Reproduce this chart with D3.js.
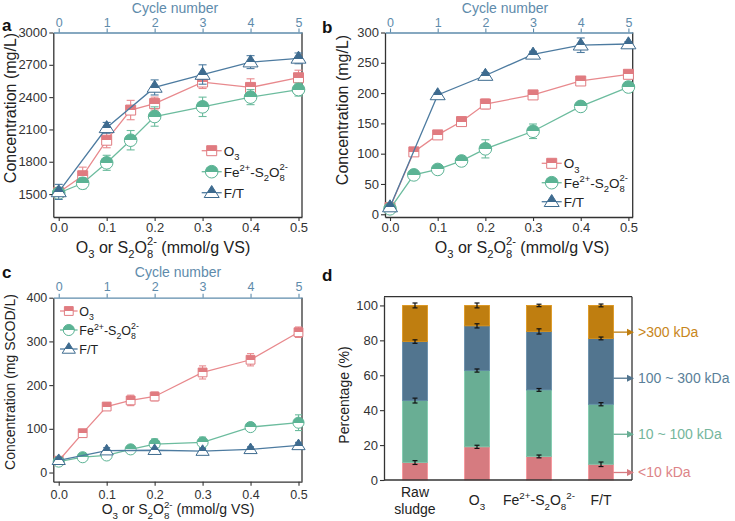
<!DOCTYPE html>
<html><head><meta charset="utf-8">
<script src="https://cdn.jsdelivr.net/npm/d3@7"></script>
<style>body{margin:0;background:#fff;} svg{font-family:Arial,"Liberation Sans",Helvetica,sans-serif;}</style>
</head><body><svg id="c" width="735" height="521"></svg>
<script>
// ---------- DATA ----------
const dose = [0, 0.05, 0.1, 0.15, 0.2, 0.3, 0.4, 0.5];
const cycles = [0, 1, 2, 3, 4, 5];
const doseTicks = [0, 0.1, 0.2, 0.3, 0.4, 0.5];
const cycleTicks = [0, 1, 2, 3, 4, 5];

// panel a (mg/L)
const aO3 = [1515, 1670, 2000, 2280, 2340, 2540, 2490, 2580];
const aO3Err = [40, 80, 70, 90, 60, 60, 80, 70];
const aFe = [1510, 1600, 1790, 2000, 2220, 2310, 2400, 2470];
const aFeErr = [40, 50, 70, 90, 90, 90, 70, 60];
const aFT = [1520, 2115, 2490, 2610, 2725, 2760];
const aFTErr = [70, 50, 70, 90, 60, 50];
const aTicks = [1500, 1800, 2100, 2400, 2700, 3000];

// panel b (mg/L)
const bO3 = [11, 103, 131, 153, 182, 197, 220, 231];
const bO3Err = [3, 5, 6, 5, 8, 5, 5, 5];
const bFe = [9, 65, 74, 88, 108, 137, 178, 210];
const bFeErr = [3, 4, 6, 5, 15, 12, 4, 6];
const bFT = [12, 197, 229, 264, 279, 281];
const bFTErr = [3, 3, 5, 5, 12, 4];
const bTicks = [0, 50, 100, 150, 200, 250, 300];

// panel c (mg SCOD/L)
const cO3 = [27, 90, 151, 165, 174, 229, 258, 321];
const cO3Err = [5, 8, 8, 12, 10, 15, 14, 12];
const cFe = [25, 35, 39, 53, 65, 69, 104, 114];
const cFeErr = [5, 7, 8, 6, 12, 12, 6, 18];
const cFT = [28, 50, 51, 49, 53, 62];
const cFTErr = [6, 7, 5, 6, 6, 7];
const cTicks = [0, 100, 200, 300, 400];

// panel d (%)
const dCats = ["Raw sludge", "O3", "Fe", "F/T"];
const dLt10 = [10, 19, 13.5, 9];
const d10to100 = [35.5, 43.7, 38.1, 34.4];
const d100to300 = [33.8, 25.6, 33.5, 37.7];
const dGt300 = [20.7, 11.7, 14.9, 18.9];
const dErrLt10 = [1.1, 0.9, 0.8, 1.3];
const dErr10to100 = [1.4, 0.9, 0.8, 0.9];
const dErr100to300 = [1.0, 1.2, 1.5, 0.8];
const dErrGt300 = [1.4, 1.4, 0.7, 0.8];
const dTicks = [0, 20, 40, 60, 80, 100];
const dLabels = [">300 kDa", "100 ~ 300 kDa", "10 ~ 100 kDa", "<10 kDa"];
const dLabelAt = [84.7, 58.3, 26.2, 4.3];

// ---------- STYLE ----------
const FONT = 'Arial,"Liberation Sans",Helvetica,sans-serif';
const AX = '#333';
const TOPC = '#5e8bab';
const C_O3 = '#e07b80', L_O3 = '#e8898d';
const C_FE = '#5bb394', L_FE = '#6cbc9e';
const C_FT = '#3e6b8f', L_FT = '#4d7ba0';
const BAR = ['#d67b80', '#69ae94', '#52758f', '#bf7e10'];
const LAB = ['#c8861a', '#5a7f99', '#74b69c', '#dd8488'];

const svg = d3.select('#c');
const defs = svg.append('defs');
function grad(id, color, cut) {
  const g = defs.append('linearGradient').attr('id', id)
    .attr('x1', 0).attr('y1', 0).attr('x2', 0).attr('y2', 1);
  [[0, color], [cut, color], [cut, '#fff'], [1, '#fff']].forEach(([o, c]) =>
    g.append('stop').attr('offset', o).attr('stop-color', c));
}
grad('hO3', C_O3, 0.5); grad('hFE', C_FE, 0.5); grad('hFT', C_FT, 0.62);

function rich(t, parts, fs) {
  let off = 0, lastSubW = 0;
  parts.forEach(([s, m]) => {
    let target = 0, size = fs, dx = 0;
    if (m === 'sub') { target = fs * 0.33; size = fs * 0.7; }
    else if (m === 'sup') { target = -fs * 0.4; size = fs * 0.7; }
    else if (m === 'stack') { target = -fs * 0.46; size = fs * 0.7; dx = -lastSubW; }
    const ts = t.append('tspan').text(s).attr('font-size', size);
    if (target - off !== 0) ts.attr('dy', target - off);
    if (dx) ts.attr('dx', dx);
    off = target;
    lastSubW = m === 'sub' ? s.length * 0.556 * fs * 0.7 : 0;
  });
}
const FE_PARTS = [['Fe', ''], ['2+', 'sup'], ['-S', ''], ['2', 'sub'], ['O', ''], ['8', 'sub'], ['2-', 'stack']];
const O3_PARTS = [['O', ''], ['3', 'sub']];
const XT_PARTS = [['O', ''], ['3', 'sub'], [' or S', ''], ['2', 'sub'], ['O', ''], ['8', 'sub'], ['2-', 'stack'], [' (mmol/g VS)', '']];

function marker(g, shape, cx, cy, col, gid, s) {
  let d;
  if (shape === 'sq') { const h = 5 * s; d = `M${-h},${-h}H${h}V${h}H${-h}Z`; }
  else if (shape === 'ci') d = d3.symbol(d3.symbolCircle, 125 * s * s)();
  else { const w = 7.5 * s, h = 12 * s; d = `M0,${-h * 0.6}L${w},${h * 0.4}L${-w},${h * 0.4}Z`; }
  g.append('path').attr('d', d)
    .attr('transform', `translate(${cx},${cy})`)
    .attr('fill', `url(#${gid})`).attr('stroke', col).attr('stroke-width', 1);
}

function styleAxis(sel, fs, color) {
  sel.attr('font-family', FONT).attr('font-size', fs);
  sel.selectAll('.domain').attr('stroke', color).attr('stroke-width', 1.3);
  sel.selectAll('.tick line').attr('stroke', color).attr('stroke-width', 1.1);
  sel.selectAll('.tick text').attr('fill', color);
}

function linePanel(o) {
  const g = svg.append('g');
  const x = d3.scaleLinear().domain(o.xDom).range([o.L, o.R]);
  const xc = d3.scaleLinear().domain(o.cDom).range([o.L, o.R]);
  const y = d3.scaleLinear().domain(o.yDom).range([o.B, o.T]);
  g.append('line').attr('x1', o.R).attr('x2', o.R).attr('y1', o.T).attr('y2', o.B)
    .attr('stroke', AX).attr('stroke-width', 1.3);
  styleAxis(g.append('g').attr('transform', `translate(${o.L},0)`)
    .call(d3.axisLeft(y).tickValues(o.yTicks).tickFormat(d3.format('d')).tickSize(4).tickSizeOuter(0).tickPadding(2)), o.fsT, AX);
  styleAxis(g.append('g').attr('transform', `translate(0,${o.B})`)
    .call(d3.axisBottom(x).tickValues(doseTicks).tickFormat(d3.format('.1f')).tickSize(4).tickSizeOuter(0).tickPadding(o.bp)), o.fsT, AX);
  styleAxis(g.append('g').attr('transform', `translate(0,${o.T})`)
    .call(d3.axisTop(xc).tickValues(cycleTicks).tickFormat(d3.format('d')).tickSize(4).tickSizeOuter(0).tickPadding(o.tp)), o.fsTop, TOPC);

  g.append('text').attr('x', o.cycX).attr('y', o.cycY).attr('text-anchor', 'middle')
    .attr('font-size', o.fsC).attr('fill', TOPC).text('Cycle number');
  const xt = g.append('text').attr('x', o.xtX).attr('y', o.xtY).attr('text-anchor', 'middle').attr('fill', '#222');
  rich(xt, XT_PARTS, o.fsTitle);
  g.append('text').attr('transform', `translate(${o.ytX},${o.ytY}) rotate(-90)`).attr('text-anchor', 'middle')
    .attr('font-size', o.fsTitle).attr('fill', '#222').text(o.yTitle);
  g.append('text').attr('x', o.lab[0]).attr('y', o.lab[1]).attr('font-size', 17).attr('font-weight', 'bold')
    .attr('fill', '#111').text(o.labText);

  const s = o.ms;
  o.series.forEach(se => {
    const sc = se.cyc ? xc : x;
    const pts = se.xs.map((xv, i) => [sc(xv), y(se.ys[i]), y(se.ys[i] - se.err[i]), y(se.ys[i] + se.err[i])]);
    g.append('path').attr('d', d3.line()(pts.map(p => [p[0], p[1]])))
      .attr('fill', 'none').attr('stroke', se.lc).attr('stroke-width', 1.3);
    pts.forEach(p => {
      g.append('line').attr('x1', p[0]).attr('x2', p[0]).attr('y1', p[2]).attr('y2', p[3]).attr('stroke', se.lc).attr('stroke-width', 1.1);
      [p[2], p[3]].forEach(yy => g.append('line').attr('x1', p[0] - 4 * s).attr('x2', p[0] + 4 * s)
        .attr('y1', yy).attr('y2', yy).attr('stroke', se.lc).attr('stroke-width', 1.1));
    });
    pts.forEach(p => marker(g, se.shape, p[0], p[1], se.c, se.gid, s));
  });
  // legend
  o.series.forEach((se, i) => {
    const ly = o.legY[i];
    g.append('line').attr('x1', o.legX).attr('x2', o.legX + 20 * s).attr('y1', ly).attr('y2', ly)
      .attr('stroke', se.lc).attr('stroke-width', 1.3);
    marker(g, se.shape, o.legX + 10 * s, ly, se.c, se.gid, s);
    const t = g.append('text').attr('x', o.legX + 22 * s).attr('y', ly + o.fsL * 0.36).attr('fill', '#222');
    rich(t, se.name, o.fsL);
  });
}

function mkSeries(o3, o3e, fe, fee, ft, fte) {
  return [
    { xs: dose, ys: o3, err: o3e, c: C_O3, lc: L_O3, gid: 'hO3', shape: 'sq', name: O3_PARTS },
    { xs: dose, ys: fe, err: fee, c: C_FE, lc: L_FE, gid: 'hFE', shape: 'ci', name: FE_PARTS },
    { xs: cycles, cyc: true, ys: ft, err: fte, c: C_FT, lc: L_FT, gid: 'hFT', shape: 'tr', name: [['F/T', '']] }
  ];
}

linePanel({
  L: 53.3, R: 302, T: 32.5, B: 217, xDom: [-0.0113, 0.5073], cDom: [-0.113, 5.073],
  yDom: [1287, 3000], yTicks: aTicks, fsT: 13, fsTop: 12.5, fsTitle: 16, fsC: 14, fsL: 13.5, bp: 2, tp: 2,
  cycX: 175, cycY: 12.7, xtX: 163, xtY: 252.5, ytX: 16, ytY: 108, yTitle: 'Concentration (mg/L)',
  lab: [2, 31], labText: 'a', ms: 1, legX: 201.7, legY: [150.7, 171.7, 192.7],
  series: mkSeries(aO3, aO3Err, aFe, aFeErr, aFT, aFTErr)
});
linePanel({
  L: 385, R: 632.7, T: 32.5, B: 217, xDom: [-0.0105, 0.509], cDom: [-0.105, 5.09],
  yDom: [-4.5, 300], yTicks: bTicks, fsT: 13, fsTop: 12.5, fsTitle: 16, fsC: 14, fsL: 13.5, bp: 2, tp: 2,
  cycX: 505, cycY: 12.7, xtX: 522, xtY: 252.5, ytX: 348, ytY: 110, yTitle: 'Concentration (mg/L)',
  lab: [322, 33], labText: 'b', ms: 1, legX: 541.7, legY: [163.3, 182.7, 201.7],
  series: mkSeries(bO3, bO3Err, bFe, bFeErr, bFT, bFTErr)
});
linePanel({
  L: 53.3, R: 302, T: 297.7, B: 481.7, xDom: [-0.0113, 0.5073], cDom: [-0.113, 5.073],
  yDom: [-21, 400], yTicks: cTicks, fsT: 12.5, fsTop: 12.5, fsTitle: 14, fsC: 14, fsL: 12.5, bp: 4, tp: 3,
  cycX: 178, cycY: 276.5, xtX: 178, xtY: 514, ytX: 15, ytY: 382, yTitle: 'Concentration (mg SCOD/L)',
  lab: [2, 278], labText: 'c', ms: 0.88, legX: 60, legY: [311, 330, 349],
  series: mkSeries(cO3, cO3Err, cFe, cFeErr, cFT, cFTErr)
});

// ---------- PANEL d ----------
(function () {
  const L = 384, R = 632, T = 296.7, B = 480;
  const g = svg.append('g');
  const x = d3.scaleBand().domain(dCats).range([L, R]).paddingInner(0.6).paddingOuter(0.3);
  const y = d3.scaleLinear().domain([0, 105]).range([B, T]);
  const keys = ['lt10', 'r10', 'r100', 'gt300'];
  const rows = dCats.map((c, i) => ({ cat: c, lt10: dLt10[i], r10: d10to100[i], r100: d100to300[i], gt300: dGt300[i] }));
  const errs = [dErrLt10, dErr10to100, dErr100to300, dErrGt300];
  const stack = d3.stack().keys(keys)(rows);
  stack.forEach((layer, k) => {
    layer.forEach((d, i) => {
      g.append('rect').attr('x', x(d.data.cat)).attr('width', x.bandwidth())
        .attr('y', y(d[1])).attr('height', y(d[0]) - y(d[1]))
        .attr('fill', BAR[k]).attr('stroke', d3.color(BAR[k]).brighter(0.4)).attr('stroke-width', 0.8);
    });
  });
  stack.forEach((layer, k) => {
    layer.forEach((d, i) => {
      const cx = x(d.data.cat) + x.bandwidth() / 2;
      const y1 = y(d[1] - errs[k][i]), y2 = y(d[1] + errs[k][i]);
      g.append('line').attr('x1', cx).attr('x2', cx).attr('y1', y1).attr('y2', y2).attr('stroke', '#111').attr('stroke-width', 1.2);
      [y1, y2].forEach(yy => g.append('line').attr('x1', cx - 2.5).attr('x2', cx + 2.5).attr('y1', yy).attr('y2', yy)
        .attr('stroke', '#111').attr('stroke-width', 1.2));
    });
  });
  // frame
  g.append('line').attr('x1', R).attr('x2', R).attr('y1', T).attr('y2', B).attr('stroke', AX).attr('stroke-width', 1.3);
  g.append('line').attr('x1', L).attr('x2', R).attr('y1', T).attr('y2', T).attr('stroke', AX).attr('stroke-width', 1.3);
  g.append('line').attr('x1', L).attr('x2', R).attr('y1', B).attr('y2', B).attr('stroke', AX).attr('stroke-width', 1.3);
  styleAxis(g.append('g').attr('transform', `translate(${L},0)`)
    .call(d3.axisLeft(y).tickValues(dTicks).tickFormat(d3.format('d')).tickSize(4).tickSizeOuter(0).tickPadding(2)), 13, AX);
  // category labels
  const fsx = 14;
  const bx = c => x(c) + x.bandwidth() / 2;
  g.append('text').attr('x', bx('Raw sludge')).attr('y', 497).attr('text-anchor', 'middle').attr('font-size', fsx).attr('fill', '#222').text('Raw');
  g.append('text').attr('x', bx('Raw sludge')).attr('y', 514).attr('text-anchor', 'middle').attr('font-size', fsx).attr('fill', '#222').text('sludge');
  rich(g.append('text').attr('x', bx('O3')).attr('y', 505).attr('text-anchor', 'middle').attr('fill', '#222'), O3_PARTS, fsx);
  rich(g.append('text').attr('x', bx('Fe')).attr('y', 505).attr('text-anchor', 'middle').attr('fill', '#222'),
    [['Fe', ''], ['2+', 'sup'], ['-S', ''], ['2', 'sub'], ['O', ''], ['8', 'sub'], ['2-', 'sup']], fsx);
  g.append('text').attr('x', bx('F/T')).attr('y', 505).attr('text-anchor', 'middle').attr('font-size', fsx).attr('fill', '#222').text('F/T');
  // y title and label
  g.append('text').attr('transform', `translate(349,395) rotate(-90)`).attr('text-anchor', 'middle')
    .attr('font-size', 14).attr('fill', '#222').text('Percentage (%)');
  g.append('text').attr('x', 322).attr('y', 281).attr('font-size', 17).attr('font-weight', 'bold').attr('fill', '#111').text('d');
  // annotations
  const xs = x('F/T') + x.bandwidth();
  dLabels.forEach((t, i) => {
    const k = 3 - i;
    const yy = y(dLabelAt[i]);
    g.append('line').attr('x1', xs).attr('x2', R - 1).attr('y1', yy).attr('y2', yy).attr('stroke', BAR[k]).attr('stroke-width', 1.3);
    g.append('path').attr('d', `M${R + 2},${yy} L${R - 5},${yy - 3.5} L${R - 5},${yy + 3.5} Z`).attr('fill', BAR[k]);
    g.append('text').attr('x', 638).attr('y', yy + 5).attr('font-size', 14).attr('fill', LAB[i]).text(t);
  });
})();
</script></body></html>
